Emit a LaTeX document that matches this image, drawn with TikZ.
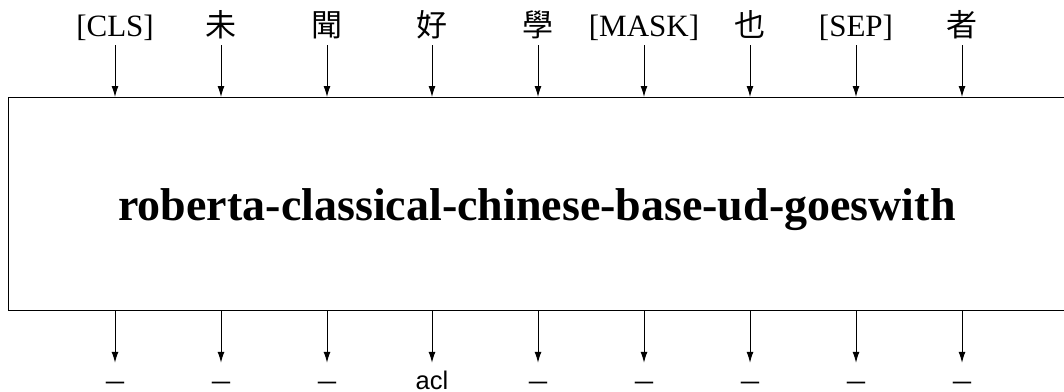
\documentclass[tikz,border=0pt]{standalone}
\usepackage{fontspec}
\setmainfont{Liberation Serif}
\newfontfamily\cjk{Noto Sans CJK TC}
\newfontfamily\lsans{Liberation Sans}
\usetikzlibrary{arrows.meta}
\begin{document}
\begin{tikzpicture}[x=1pt,y=1pt,
  toplab/.style={font=\fontsize{31}{31}\selectfont, inner sep=0pt, text height=22pt, text depth=9pt, anchor=base},
  cjklab/.style={toplab, font=\fontsize{31}{31}\selectfont\cjk},
  botlab/.style={font=\fontsize{25.5}{25.5}\lsans\selectfont, inner sep=0pt, text height=26pt, text depth=4pt, anchor=base},
  conn/.style={line width=1pt, -{Latex[length=11pt,width=7pt]}},
  modelbox/.style={draw, line width=1.4pt, minimum width=1080pt, minimum height=213pt, anchor=north west, inner sep=0pt},
  title/.style={font=\fontsize{46}{46}\selectfont\bfseries}
]
\useasboundingbox (0,0) rectangle (1064,-391);
\node[modelbox] (model) at (8,-97) {};
\node[title] (name) at (537,-210) {roberta-classical-chinese-base-ud-goeswith};
% top labels
\node[toplab] (t1) at (115,-36) {[CLS]};
\node[cjklab] (t2) at (221,-36) {未};
\node[cjklab] (t3) at (327,-36) {聞};
\node[cjklab] (t4) at (432,-36) {好};
\node[cjklab] (t5) at (538,-36) {學};
\node[toplab] (t6) at (644,-36) {[MASK]};
\node[cjklab] (t7) at (750,-36) {也};
\node[toplab] (t8) at (856,-36) {[SEP]};
\node[cjklab] (t9) at (962,-36) {者};
% bottom labels
\node[botlab] (b1) at (115,-389) {\scalebox{1.3}[1]{–}};
\node[botlab] (b2) at (221,-389) {\scalebox{1.3}[1]{–}};
\node[botlab] (b3) at (327,-389) {\scalebox{1.3}[1]{–}};
\node[botlab] (b4) at (432,-389) {acl};
\node[botlab] (b5) at (538,-389) {\scalebox{1.3}[1]{–}};
\node[botlab] (b6) at (644,-389) {\scalebox{1.3}[1]{–}};
\node[botlab] (b7) at (750,-389) {\scalebox{1.3}[1]{–}};
\node[botlab] (b8) at (856,-389) {\scalebox{1.3}[1]{–}};
\node[botlab] (b9) at (962,-389) {\scalebox{1.3}[1]{–}};
\foreach \i in {1,...,9} {
  \draw[conn] (t\i.south) -- (t\i.south |- model.north);
  \draw[conn] (model.south -| b\i.north) -- (b\i.north);
}
\end{tikzpicture}
\end{document}
